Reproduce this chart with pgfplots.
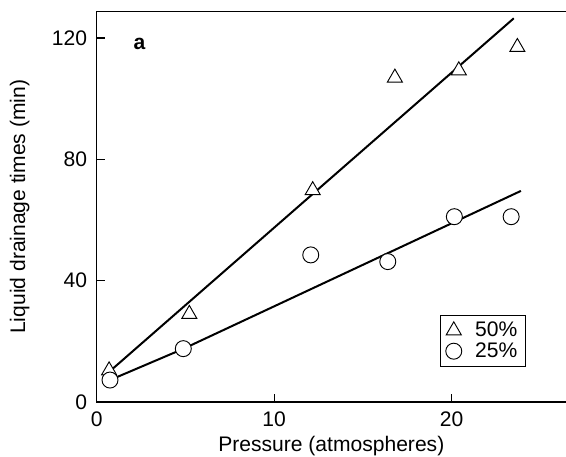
\documentclass[border=0pt]{standalone}
\usepackage{fontspec}
\setmainfont{Liberation Sans}
\usepackage{pgfplots}
\pgfplotsset{compat=1.18}
\begin{document}
\begin{tikzpicture}
\begin{axis}[
    scale only axis,
    width=359.4pt, height=293pt,
    xmin=0, xmax=27, ymin=0, ymax=128.8,
    xtick={0,10,20}, ytick={0,40,80,120},
    xtick pos=bottom, ytick pos=left,
    major tick length=6pt,
    tick style={black, line width=0.8pt},
    axis line style={line width=0.9pt},
    font=\fontsize{15.8}{18}\selectfont,
    /pgf/number format/assume math mode=true,
    xticklabel style={anchor=base, yshift=-18.5pt},
    yticklabel style={anchor=east, inner sep=0pt, xshift=-7pt},
    xlabel={Pressure (atmospheres)},
    ylabel={Liquid drainage times (min)},
    every axis x label/.style={at={(rel axis cs:0.4896,0)}, anchor=base, yshift=-37.3pt},
    every axis y label/.style={at={(rel axis cs:0,0.5)}, xshift=-57.75pt, rotate=90, anchor=center},
    legend style={at={(axis cs:19.34,28.7)}, anchor=north west, draw=black, line width=0.7pt,
        inner xsep=4pt, inner ysep=3pt, row sep=-1pt, font=\fontsize{15.8}{18}\selectfont,
        /tikz/every odd column/.style={column sep=8pt}},
    legend image code/.code={\draw[#1] plot coordinates {(0pt,0pt)};},
    legend cell align=left,
]
% fitted lines
\addplot[black, line width=1.5pt, forget plot] coordinates {(0.75,10.2) (23.5,126.5)};
\addplot[black, line width=1.5pt, forget plot] coordinates {(0.75,7.25) (4.9,17.6) (23.9,69.6)};

% 50%
\addplot[only marks, mark=triangle*, mark size=6.5pt,
    mark options={draw=black, fill=white, line width=0.7pt}] coordinates {
    (0.7,10.4) (5.22,29.0) (12.17,69.8) (16.8,106.9) (20.4,109.3) (23.7,117.0)
};
\addlegendentry{50\%}

% 25%
\addplot[only marks, mark=*, mark size=6pt,
    mark options={draw=black, fill=white, line width=0.7pt}] coordinates {
    (0.75,7.25) (4.88,17.6) (12.06,48.5) (16.4,46.3) (20.15,61.1) (23.35,61.1)
};
\addlegendentry{25\%}

\node[anchor=base, font=\fontsize{15.8}{18}\selectfont\bfseries] at (axis cs:2.41,116.1) {a};

\coordinate (bl) at (axis cs:0,0);
\coordinate (tr) at (axis cs:26.44,128.8);
\end{axis}
\pgfresetboundingbox
\path ([xshift=-72.5pt, yshift=-40.5pt]bl) rectangle ([yshift=8.5pt]tr);
\end{tikzpicture}
\end{document}
